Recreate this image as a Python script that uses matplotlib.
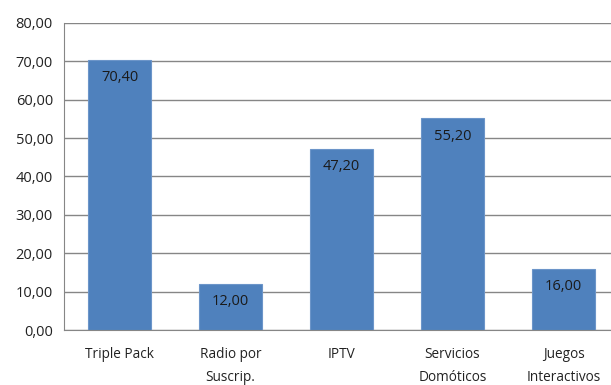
import matplotlib
matplotlib.use("Agg")
import matplotlib.pyplot as plt

categories = ["Triple Pack", "Radio por\nSuscrip.", "IPTV", "Servicios\nDomóticos", "Juegos\nInteractivos"]
values = [70.40, 12.00, 47.20, 55.20, 16.00]
yticks = [0, 10, 20, 30, 40, 50, 60, 70, 80]

plt.rcParams['font.family'] = ['Open Sans', 'DejaVu Sans']

W, H = 611, 385
fig = plt.figure(figsize=(W / 100, H / 100), dpi=100)
left, right, top, bottom = 64, 619, 23, 330
ax = fig.add_axes([left / W, 1 - bottom / H, (right - left) / W, (bottom - top) / H])

fmt = lambda v: f"{v:.2f}".replace(".", ",")

x = range(len(categories))
ax.bar(x, values, width=0.57, color="#4F81BD", edgecolor="#6C95C9", linewidth=0.8, zorder=3)
for xi, v in zip(x, values):
    ax.annotate(fmt(v), (xi, v), xytext=(0, -18), textcoords="offset pixels",
                ha="center", va="center", fontsize=10.5, color="#1a1a1a", zorder=4)

ax.set_xlim(-0.5, len(categories) - 0.5)
ax.set_ylim(0, 80)
ax.set_yticks(yticks)
ax.set_yticklabels([fmt(t) for t in yticks], fontsize=10.5, color="#222222")
ax.set_xticks(list(x))
ax.set_xticklabels(categories, fontsize=9.8, color="#222222", linespacing=1.75)
ax.tick_params(axis="y", length=0, pad=8)
ax.tick_params(axis="x", length=0, pad=12)
ax.grid(axis="y", color="#868686", linewidth=1.0, zorder=0)
for s in ["top", "right"]:
    ax.spines[s].set_visible(False)
ax.spines["left"].set_color("#868686")
ax.spines["bottom"].set_color("#868686")
ax.spines["bottom"].set_zorder(5)

fig.savefig("out.png", dpi=100)
